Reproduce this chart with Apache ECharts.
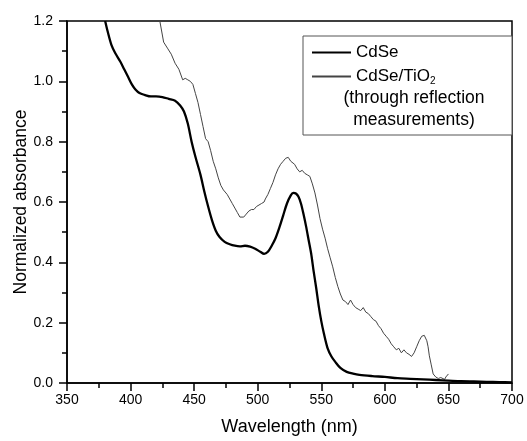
<!DOCTYPE html>
<html>
<head>
<meta charset="utf-8">
<script src="https://cdn.jsdelivr.net/npm/echarts@6/dist/echarts.min.js"></script>
<style>
  html, body { margin: 0; padding: 0; background: #fff; }
  #chart { width: 527px; height: 441px; }
</style>
</head>
<body>
<div id="chart"></div>
<script>
// CdSe absorbance (thick line)
const cdseWl = [380, 382, 385, 388, 392, 395, 398, 401, 404, 407, 411, 416, 420, 425, 430, 435, 439, 442, 445, 448, 451, 455,
    458, 461, 464, 467, 470, 474, 478, 482, 486, 490, 494, 498, 502, 505, 508, 511, 514, 517, 520, 523,
    526, 528, 530, 532, 534, 536, 538, 540, 542, 544, 546, 548, 550, 552, 555, 558, 561, 565, 570, 575,
    580, 590, 600, 610, 620, 630, 640, 650, 660, 670, 680, 690, 700];
const cdseAbs = [1.20, 1.165, 1.12, 1.093, 1.065, 1.04, 1.015, 0.99, 0.972, 0.961, 0.955, 0.950, 0.950, 0.948, 0.942, 0.936, 0.92, 0.90, 0.86, 0.80, 0.75, 0.69,
    0.635, 0.585, 0.54, 0.505, 0.484, 0.468, 0.460, 0.455, 0.453, 0.455, 0.452, 0.445, 0.435, 0.428, 0.435, 0.455, 0.48, 0.515, 0.555, 0.595,
    0.622, 0.630, 0.628, 0.618, 0.595, 0.56, 0.52, 0.475, 0.43, 0.37, 0.315, 0.255, 0.205, 0.165, 0.115, 0.088, 0.07, 0.05, 0.037, 0.031,
    0.027, 0.023, 0.020, 0.016, 0.014, 0.012, 0.010, 0.008, 0.006, 0.005, 0.004, 0.003, 0.002];

// CdSe/TiO2 absorbance from reflection (thin line)
const tioWl = [423, 426, 429, 432, 435, 438, 441, 443, 445, 447, 449, 451, 453, 455, 457, 459, 461, 463, 465, 467,
    469, 471, 473, 476, 478, 480, 482, 484, 486, 487.5, 489, 491, 493, 495, 497, 499, 501, 503, 505, 506,
    508, 510, 512, 514, 516, 518, 520, 522, 523, 524, 526, 527, 529, 531, 533, 535, 537, 539, 541, 543,
    545, 547, 549, 551, 553, 555, 557, 559, 561, 563, 565, 567, 569, 571, 573, 575, 577, 579, 581, 583,
    585, 587, 589, 591, 593, 595, 597, 599, 601, 603, 605, 607, 609, 611, 613, 615, 617, 619, 621, 623,
    625, 627, 629, 630, 631, 633, 634, 635, 636.5, 638, 640, 642, 644, 645, 647, 648, 650];
const tioAbs = [1.20, 1.13, 1.11, 1.09, 1.06, 1.04, 1.005, 1.01, 1.005, 1.00, 0.99, 0.96, 0.93, 0.89, 0.85, 0.81, 0.80, 0.77, 0.735, 0.71,
    0.68, 0.655, 0.64, 0.625, 0.61, 0.595, 0.58, 0.565, 0.55, 0.545, 0.55, 0.56, 0.57, 0.575, 0.575, 0.585, 0.59, 0.595, 0.60, 0.61,
    0.625, 0.645, 0.665, 0.69, 0.71, 0.725, 0.735, 0.745, 0.74, 0.748, 0.735, 0.74, 0.725, 0.71, 0.70, 0.705, 0.695, 0.69, 0.685, 0.66,
    0.63, 0.59, 0.545, 0.51, 0.48, 0.445, 0.415, 0.385, 0.35, 0.32, 0.295, 0.275, 0.27, 0.26, 0.275, 0.26, 0.25, 0.245, 0.24, 0.25,
    0.235, 0.23, 0.22, 0.21, 0.205, 0.19, 0.18, 0.165, 0.155, 0.145, 0.13, 0.12, 0.11, 0.115, 0.10, 0.11, 0.10, 0.095, 0.088, 0.10,
    0.12, 0.14, 0.155, 0.16, 0.158, 0.14, 0.12, 0.09, 0.06, 0.03, 0.02, 0.015, 0.018, 0.012, 0.012, 0.02, 0.03];

const legendNote = ['(through reflection', 'measurements)'];

const font = '"Liberation Sans", Arial, sans-serif';
const pairs = (xs, ys) => xs.map((x, i) => [x, ys[i]]);

const chart = echarts.init(document.getElementById('chart'));
chart.setOption({
    animation: false,
    grid: {
        left: 67, right: 15, top: 21, bottom: 58,
        containLabel: false, outerBoundsMode: 'none',
        show: true, borderColor: '#000', borderWidth: 1.5
    },
    legend: {
        orient: 'vertical',
        left: 311, top: 44,
        padding: 0,
        itemWidth: 39, itemHeight: 14, itemGap: 7,
        itemStyle: { opacity: 0 },
        textStyle: {
            fontFamily: font, fontSize: 17, color: '#000',
            rich: { sub: { fontFamily: font, fontSize: 10, verticalAlign: 'bottom', padding: [9, 0, 0, 0] } }
        },
        formatter: name => name === 'CdSe/TiO2' ? 'CdSe/TiO{sub|2}' : name,
        data: ['CdSe', 'CdSe/TiO2']
    },
    graphic: [
        { type: 'rect', shape: { x: 303, y: 36, width: 209, height: 99 },
          style: { fill: '#fff', stroke: '#555', lineWidth: 1 }, z: 0, silent: true },
        { type: 'text', x: 414, y: 98, style: { text: legendNote[0], fontFamily: font, fontSize: 17.5,
          fill: '#000', align: 'center', verticalAlign: 'middle' }, z: 5 },
        { type: 'text', x: 414, y: 120, style: { text: legendNote[1], fontFamily: font, fontSize: 17.5,
          fill: '#000', align: 'center', verticalAlign: 'middle' }, z: 5 }
    ],
    xAxis: {
        type: 'value', min: 350, max: 700, interval: 50,
        name: 'Wavelength (nm)', nameLocation: 'middle', nameGap: 35, nameMoveOverlap: false,
        nameTextStyle: { fontFamily: font, fontSize: 18, color: '#000' },
        axisLine: { lineStyle: { color: '#000', width: 1.5 } },
        axisTick: { inside: false, length: 8, lineStyle: { color: '#000', width: 1.5 } },
        minorTick: { show: true, splitNumber: 2, length: 5, lineStyle: { color: '#000', width: 1.5 } },
        axisLabel: { margin: 10, fontFamily: font, fontSize: 14, color: '#000' },
        splitLine: { show: false }
    },
    yAxis: {
        type: 'value', min: 0, max: 1.2, interval: 0.2,
        name: 'Normalized absorbance', nameLocation: 'middle', nameGap: 37, nameMoveOverlap: false,
        nameTextStyle: { fontFamily: font, fontSize: 17.5, color: '#000' },
        axisLine: { show: true, lineStyle: { color: '#000', width: 1.5 } },
        axisTick: { show: true, inside: false, length: 8, lineStyle: { color: '#000', width: 1.5 } },
        minorTick: { show: true, splitNumber: 2, length: 5, lineStyle: { color: '#000', width: 1.5 } },
        axisLabel: { margin: 14, fontFamily: font, fontSize: 14, color: '#000',
            formatter: v => v.toFixed(1) },
        splitLine: { show: false }
    },
    series: [
        {
            name: 'CdSe', type: 'line', data: pairs(cdseWl, cdseAbs),
            showSymbol: false, symbol: 'none', smooth: 0.3,
            lineStyle: { color: '#000', width: 2.3 }, itemStyle: { color: '#000' },
            clip: true, z: 3
        },
        {
            name: 'CdSe/TiO2', type: 'line', data: pairs(tioWl, tioAbs),
            showSymbol: false, symbol: 'none',
            lineStyle: { color: '#444', width: 1 }, itemStyle: { color: '#444' },
            clip: true, z: 2
        }
    ]
});
</script>
</body>
</html>
